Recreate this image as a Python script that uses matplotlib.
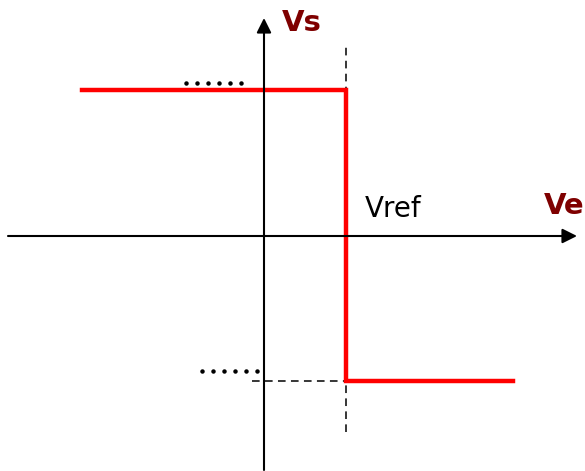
import matplotlib.pyplot as plt

# Transfer characteristic of a comparator (values in drawing units, origin at axes crossing)
vref = 82
vs_high = 146
vs_low = -145
ve_min = -182
ve_max = 249

step_x = [ve_min, vref, vref, ve_max]
step_y = [vs_high, vs_high, vs_low, vs_low]

# axis extents
x_axis = [-256, 313]
y_axis = [-234, 218]

# dotted level markers (x positions of the dots)
dots_high_x = [-78, -67, -56, -45, -34, -23]
dots_low_x = [-62, -51, -40, -29, -18, -7]

fig = plt.figure(figsize=(5.85, 4.71), dpi=100)
ax = fig.add_axes([0, 0, 1, 1])
ax.set_xlim(-264, 321)
ax.set_ylim(-235, 236)
ax.axis('off')

# axes with arrows
arrow = dict(arrowstyle='-|>', lw=1.5, color='black', mutation_scale=22, shrinkA=0, shrinkB=0)
ax.annotate('', xy=(x_axis[1], 0), xytext=(x_axis[0], 0), arrowprops=arrow)
ax.annotate('', xy=(0, y_axis[1]), xytext=(0, y_axis[0]), arrowprops=arrow)

# dashed guides
ax.plot([vref, vref], [-196, 191], color='black', lw=1.1, ls=(0, (5, 3.5)))
ax.plot([-12, 191], [vs_low, vs_low], color='black', lw=1.1, ls=(0, (5, 3.5)))

ax.plot(dots_high_x, [153] * len(dots_high_x), 'o', color='black', ms=2.2)
ax.plot(dots_low_x, [vs_low + 10] * len(dots_low_x), 'o', color='black', ms=2.2)

# characteristic
ax.plot(step_x, step_y, color='#ff0000', lw=3.2, solid_joinstyle='miter')

# labels
ax.text(18, 213, 'Vs', color='#7f0000', fontsize=21, fontweight='bold', va='center', ha='left')
ax.text(280, 30, 'Ve', color='#7f0000', fontsize=21, fontweight='bold', va='center', ha='left')
ax.text(101, 27, 'Vref', color='black', fontsize=20, va='center', ha='left')

fig.savefig('out.png', dpi=100)
